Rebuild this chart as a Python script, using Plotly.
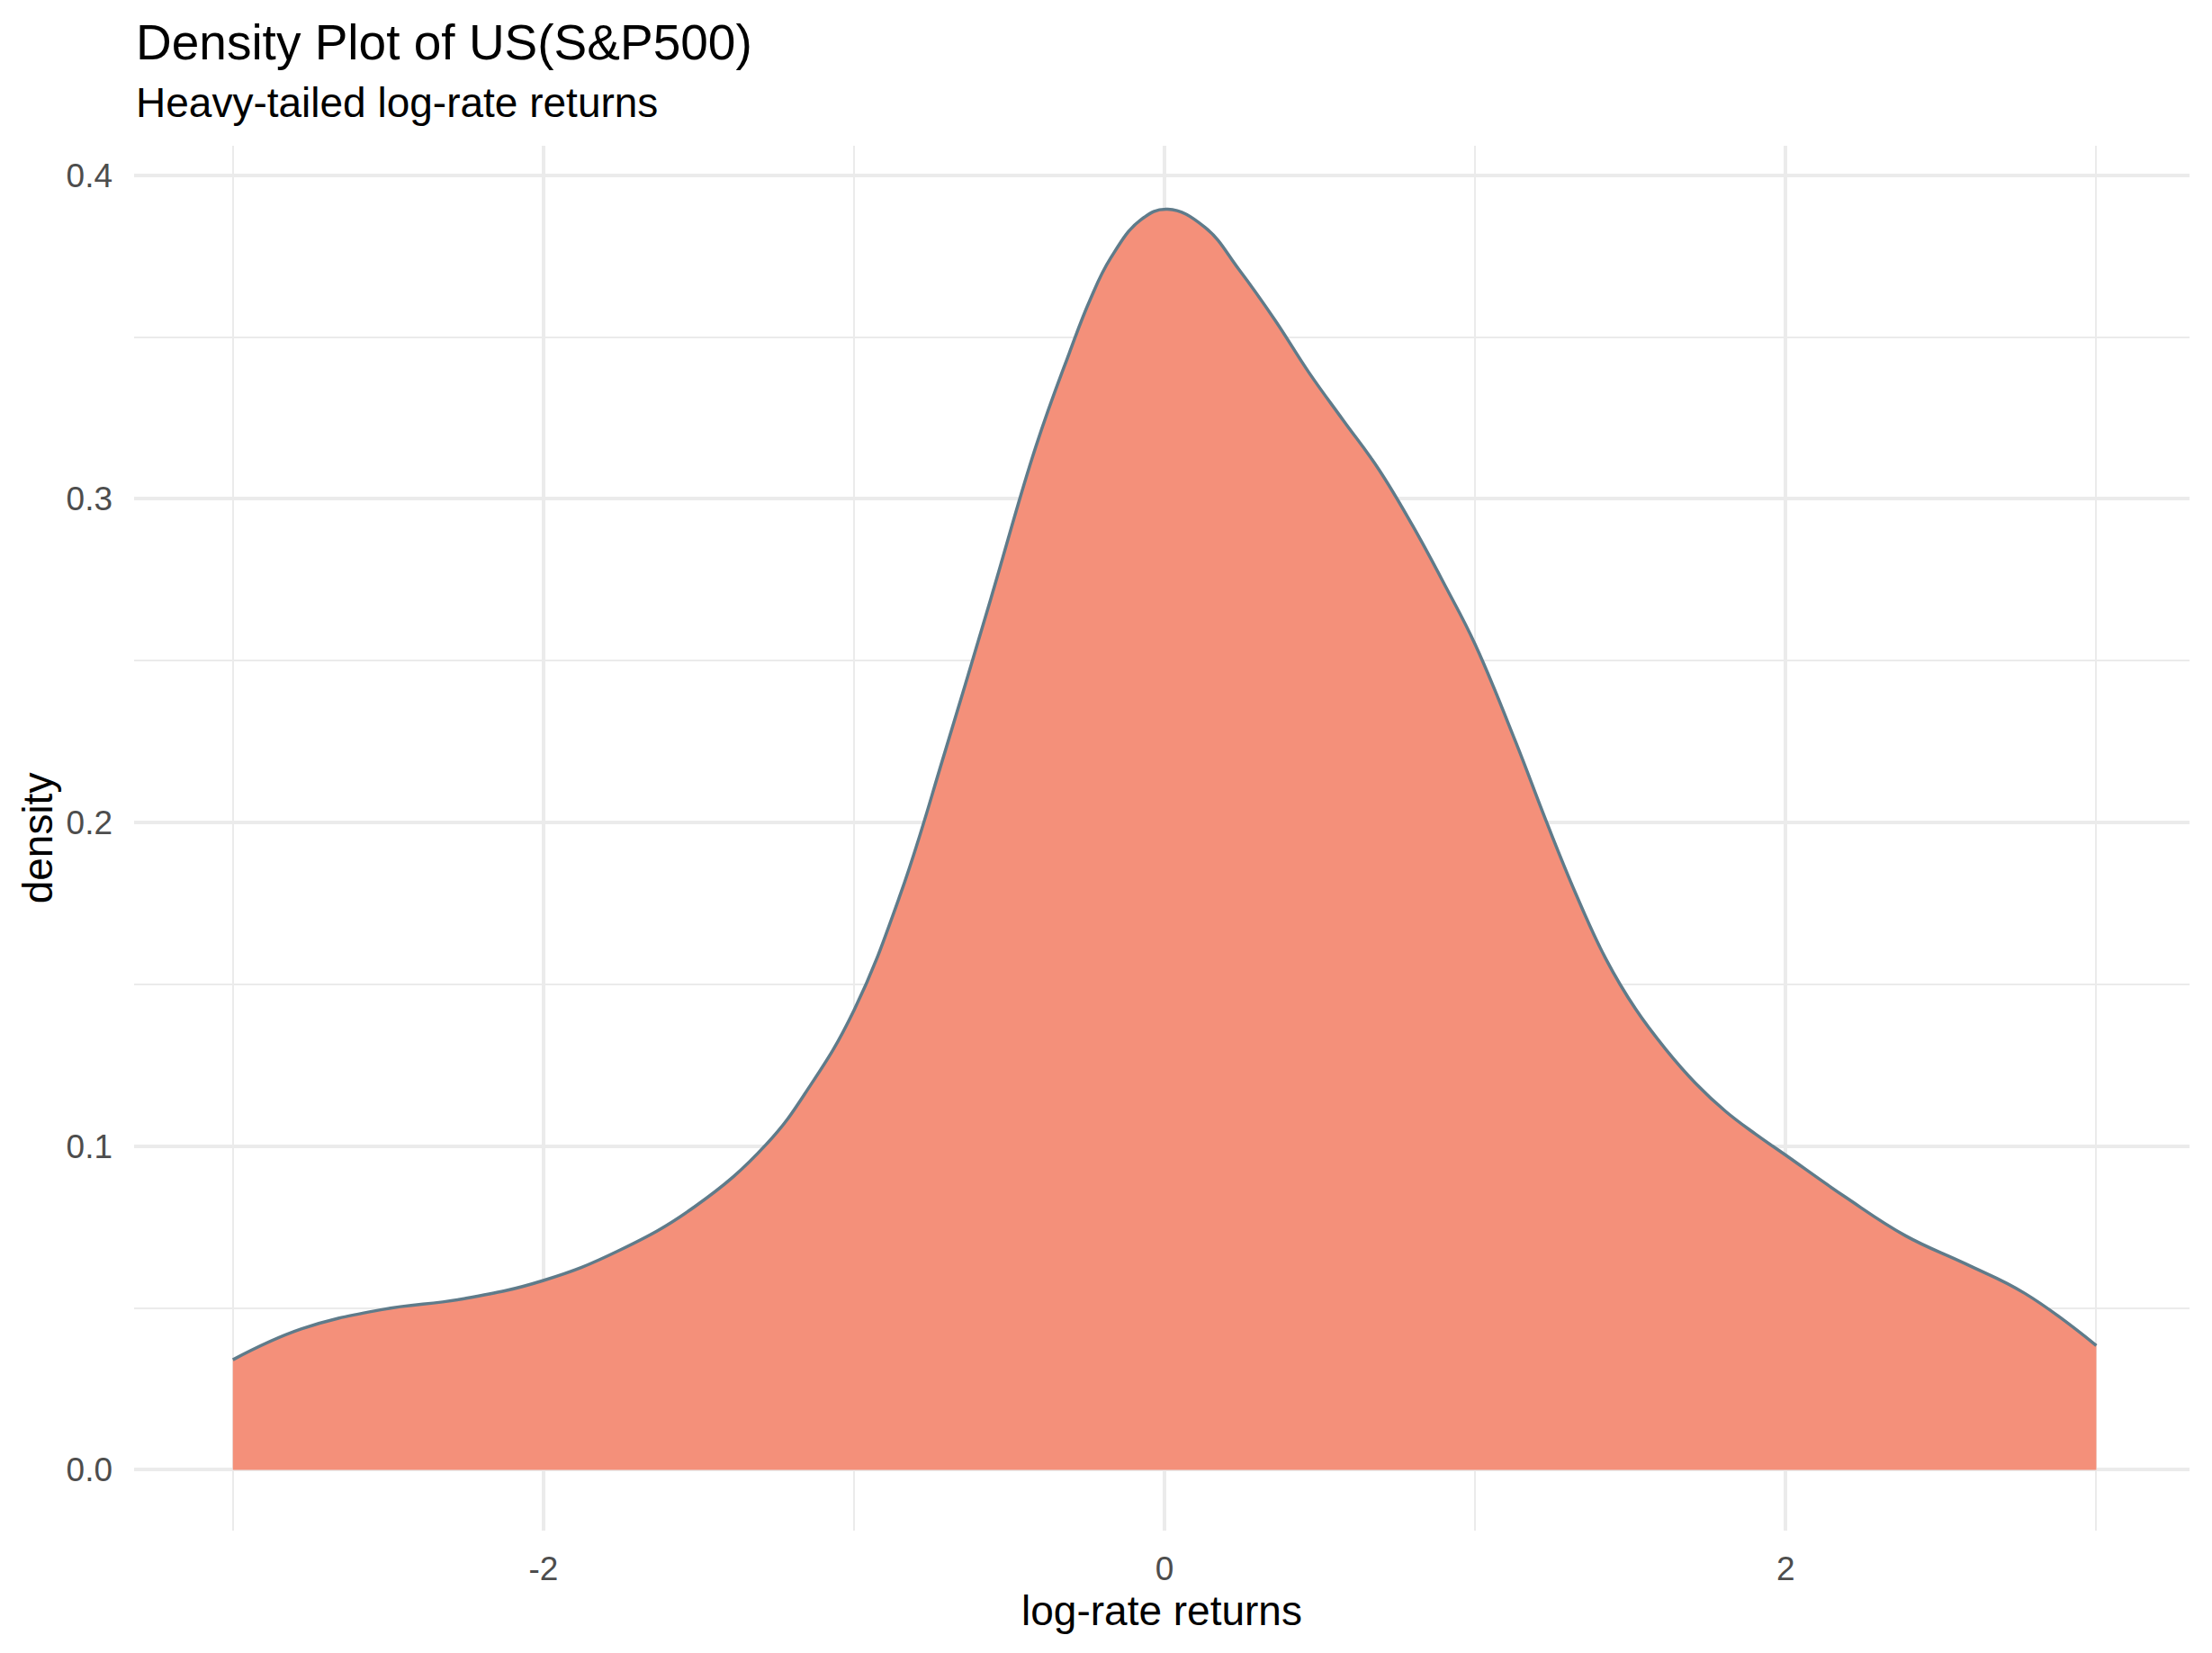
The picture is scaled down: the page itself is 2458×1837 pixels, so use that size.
import plotly.graph_objects as go

# Density curve (x: log-rate returns, y: density)
returns_x = [-3.0, -2.78, -2.52, -2.26, -2.0, -1.76, -1.51, -1.283, -1.139,
             -1.0, -0.85, -0.705, -0.56, -0.415, -0.307, -0.24, -0.173, -0.077, 0.01, 0.13,
             0.24, 0.355, 0.465, 0.575, 0.687, 0.797, 0.907, 1.0, 1.13, 1.228,
             1.324, 1.42, 1.517, 1.613, 1.71, 1.807, 1.903, 2.0, 2.193, 2.386,
             2.58, 2.77, 3.0]
density_y = [0.034, 0.0435, 0.0495, 0.0528, 0.0585, 0.0676, 0.0815, 0.1005, 0.119,
             0.142, 0.178, 0.2225, 0.269, 0.316, 0.345, 0.3615, 0.3745, 0.3862, 0.3895, 0.3839,
             0.3708, 0.3553, 0.339, 0.3243, 0.3095, 0.292, 0.2725, 0.255, 0.225, 0.2006,
             0.178, 0.158, 0.1423, 0.130, 0.1194, 0.1107, 0.1037, 0.0972, 0.0842, 0.0723,
             0.0636, 0.0545, 0.0384]

x_major_ticks = [-2, 0, 2]
x_minor_ticks = [-3, -1, 1, 3]
y_major_ticks = [0.0, 0.1, 0.2, 0.3, 0.4]
y_minor_ticks = [0.05, 0.15, 0.25, 0.35]

title_text = "Density Plot of US(S&P500)"
subtitle_text = "Heavy-tailed log-rate returns"
x_title = "log-rate returns"
y_title = "density"

FONT = "Liberation Sans, Arial, Helvetica, sans-serif"
GRID = "#EBEBEB"

fig = go.Figure()
fig.add_trace(go.Scatter(
    x=returns_x, y=density_y, mode="lines",
    line=dict(color="#5F7B8A", width=3.5, shape="spline", smoothing=1.2),
    fill="tozeroy", fillcolor="#F4907A",
    showlegend=False, hoverinfo="skip",
))

W, H = 2458, 1837
ml, mr, mt, mb = 141, 33, 154, 144
ph = H - mt - mb

def ypaper(px):
    return (H - mb - px) / ph

fig.update_layout(
    width=W, height=H,
    margin=dict(l=ml, r=mr, t=mt, b=mb),
    paper_bgcolor="white", plot_bgcolor="white",
    font=dict(family=FONT, color="black"),
    annotations=[
        dict(text=title_text, xref="paper", yref="paper", x=0, y=ypaper(39),
             xanchor="left", yanchor="middle", showarrow=False,
             font=dict(size=55, color="black", family=FONT)),
        dict(text=subtitle_text, xref="paper", yref="paper", x=0, y=ypaper(106),
             xanchor="left", yanchor="middle", showarrow=False,
             font=dict(size=46, color="black", family=FONT)),
    ],
)

fig.update_xaxes(
    range=[-3.318, 3.30],
    tickvals=x_major_ticks, ticktext=[str(v) for v in x_major_ticks],
    tickfont=dict(size=37, color="#4D4D4D", family=FONT),
    showgrid=True, gridcolor=GRID, gridwidth=3.5,
    zeroline=False, showline=False, ticks="", ticklabelstandoff=17,
    minor=dict(tickvals=x_minor_ticks, showgrid=True, gridcolor=GRID, gridwidth=2),
    title=dict(text=x_title, font=dict(size=46, color="black", family=FONT), standoff=2),
)
fig.update_yaxes(
    range=[-0.0188, 0.4091],
    tickvals=y_major_ticks, ticktext=[f"{v:.1f}" for v in y_major_ticks],
    tickfont=dict(size=37, color="#4D4D4D", family=FONT),
    showgrid=True, gridcolor=GRID, gridwidth=3.5,
    zeroline=False, showline=False, ticks="", ticklabelstandoff=23,
    minor=dict(tickvals=y_minor_ticks, showgrid=True, gridcolor=GRID, gridwidth=2),
    title=dict(text=y_title, font=dict(size=46, color="black", family=FONT), standoff=0),
)

fig.write_html("out.html")
